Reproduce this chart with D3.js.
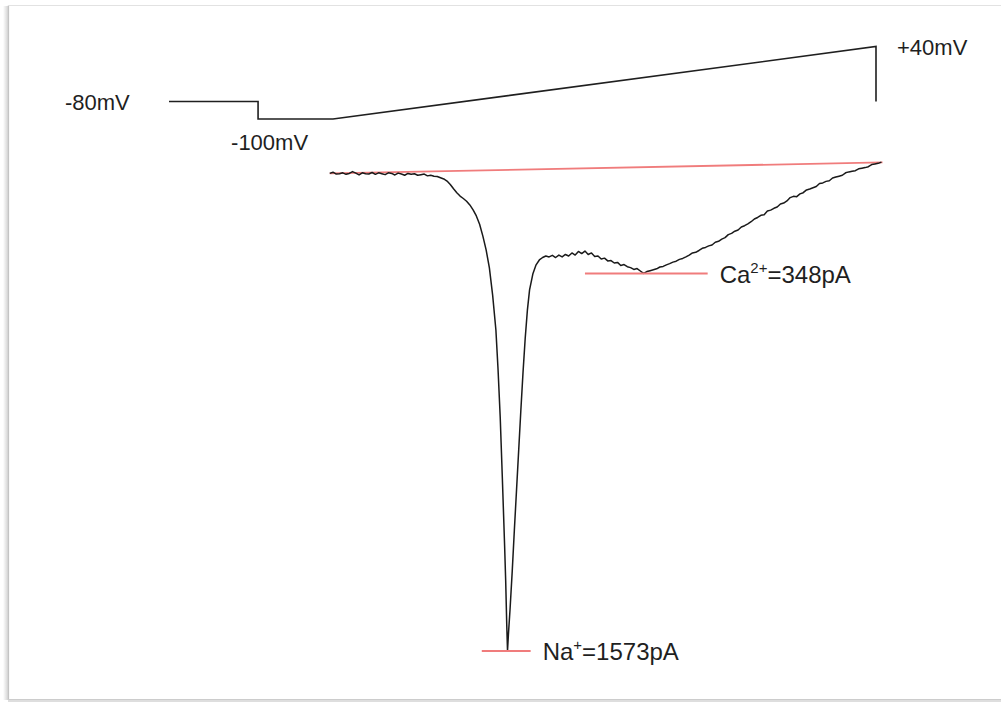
<!DOCTYPE html>
<html>
<head>
<meta charset="utf-8">
<script src="https://cdn.jsdelivr.net/npm/d3@7"></script>
<style>
  html, body { margin: 0; padding: 0; background: #fff; }
  svg { display: block; }
</style>
</head>
<body>
<script>
// ---- Voltage protocol: hold at -80 mV, step to -100 mV, ramp to +40 mV, back to -80 mV
const protocolTimeMs = [-151, -69, -69, 0, 500, 500];
const protocolMv     = [-80, -80, -100, -100, 40, -80];
const protocolLabels = ["-80mV", "-100mV", "+40mV"];

// ---- Whole-cell current recorded during the ramp (ms, pA)
const traceTimeMs = [
  -3, 0, 3, 6, 9, 12, 15, 18, 21, 24, 27, 30, 33, 36, 39, 42, 45, 48, 51, 54,
  57, 60, 63, 66, 69, 72, 75, 78, 81, 84, 87, 90, 93, 96, 99,
  102, 105, 108, 111, 114, 117, 120, 123, 126, 129, 132, 135, 138, 141, 144, 147, 150,
  152, 154, 156, 158, 159, 160, 160.7,
  161.5, 163, 165, 167, 169, 171, 173, 175, 177, 179, 181, 184, 187, 190, 193, 196, 199,
  202, 205, 208, 211, 214, 217, 220, 223, 226, 229, 232, 235, 238, 241, 244, 247, 250,
  253, 256, 259, 262, 265, 268, 271, 274, 277, 280, 283, 286, 289, 292, 295, 298, 301,
  304, 307, 310, 313, 316, 319, 322, 325, 328, 331, 334, 337, 340, 343, 346, 349, 352,
  355, 358, 361, 364, 367, 370, 373, 376, 379, 382, 385, 388, 391, 394, 397, 400, 403,
  406, 409, 412, 415, 418, 421, 424, 427, 430, 433, 436, 439, 442, 445, 448, 451, 454,
  457, 460, 463, 466, 469, 472, 475, 478, 481, 484, 487, 490, 493, 496, 499, 502, 505
];
const tracePa = [
  -21, -17, -23, -22, -19, -24, -21, -15, -20, -26, -19, -22, -23, -18, -24, -19, -22, -25, -19, -21,
  -26, -20, -23, -27, -21, -24, -22, -27, -25, -23, -29, -27, -30, -31, -35,
  -39, -46, -57, -71, -84, -95, -103, -112, -124, -140, -160, -187, -226, -271, -330, -419, -533,
  -664, -821, -1024, -1236, -1351, -1498, -1582,
  -1530, -1448, -1324, -1187, -1056, -925, -794, -670, -559, -468, -402, -350, -320, -304, -296, -291, -294,
  -289, -296, -288, -294, -286, -291, -281, -288, -276, -283, -275, -286, -281, -293, -291, -301, -298,
  -307, -306, -314, -312, -322, -319, -326, -329, -335, -332, -340, -348, -342, -339, -336, -333, -327,
  -325, -320, -316, -311, -308, -302, -299, -294, -288, -281, -279, -273, -266, -263, -258, -255, -246,
  -243, -236, -231, -221, -217, -210, -206, -196, -192, -186, -179, -170, -165, -158, -156, -144, -141,
  -135, -131, -121, -118, -111, -100, -96, -97, -88, -84, -75, -72, -68, -64, -54, -52, -47,
  -45, -36, -33, -30, -27, -19, -16, -14, -12, -6, -4, -2, 1, 8, 10, 12, 16
];

// ---- Linear leak estimate across the ramp
const leakTimeMs = [-3, 506];
const leakPa     = [-21, 15];

// ---- Peak inward currents measured from the leak line
const peakIons        = ["Na", "Ca"];
const peakCharges     = ["+", "2+"];
const peakAmplitudePa = [1573, 348];
const peakTimeMs      = [160.7, 286];
const peakMarkStartMs = [137, 232];
const peakMarkEndMs   = [182, 345];

// ---------------------------------------------------------------------------
const W = 1001, H = 702;
const svg = d3.select("body").append("svg")
  .attr("width", W).attr("height", H)
  .attr("viewBox", `0 0 ${W} ${H}`);

// Frame with a soft shadow on the left and bottom edges
const defs = svg.append("defs");
const gradL = defs.append("linearGradient").attr("id", "shadeL")
  .attr("x1", "0").attr("x2", "1").attr("y1", "0").attr("y2", "0");
gradL.append("stop").attr("offset", "0").attr("stop-color", "#ffffff");
gradL.append("stop").attr("offset", "1").attr("stop-color", "#d4d4d4");
svg.append("rect").attr("x", 3).attr("y", 6).attr("width", 5).attr("height", 694)
  .attr("fill", "url(#shadeL)");
svg.append("line").attr("x1", 8.5).attr("x2", 8.5).attr("y1", 5).attr("y2", 700)
  .attr("stroke", "#c4c4c4").attr("stroke-width", 1.2);
svg.append("line").attr("x1", 8).attr("x2", W).attr("y1", 5.5).attr("y2", 5.5)
  .attr("stroke", "#e2e2e2").attr("stroke-width", 1.2);
svg.append("rect").attr("x", 8).attr("y", 699).attr("width", W - 8).attr("height", 3)
  .attr("fill", "#dedede");
svg.append("line").attr("x1", 8).attr("x2", W).attr("y1", 699.5).attr("y2", 699.5)
  .attr("stroke", "#cccccc").attr("stroke-width", 1);

// Scales
const x = d3.scaleLinear().domain([0, 500]).range([333, 876]);
const v = d3.scaleLinear().domain([-100, -80, 40]).range([119, 101.5, 46.5]);
const y = d3.scaleLinear().domain([-1600, 0]).range([656.3, 167]);

const FONT = "'Liberation Sans', Arial, Helvetica, sans-serif";
const INK = "#1f1f1f";
const RED = "#f07c7c";

// Voltage protocol
const protocol = d3.zip(protocolTimeMs, protocolMv);
svg.append("path")
  .datum(protocol)
  .attr("fill", "none")
  .attr("stroke", INK)
  .attr("stroke-width", 1.6)
  .attr("d", d3.line().x(d => x(d[0])).y(d => v(d[1])));

const labelG = svg.append("g")
  .attr("font-family", FONT).attr("font-size", 22).attr("fill", INK);
labelG.append("text").attr("x", x(protocolTimeMs[0]) - 104).attr("y", v(protocolMv[0]) + 8)
  .text(protocolLabels[0]);
labelG.append("text").attr("x", x(protocolTimeMs[2]) - 27).attr("y", v(protocolMv[2]) + 31)
  .text(protocolLabels[1]);
labelG.append("text").attr("x", x(protocolTimeMs[4]) + 21).attr("y", v(protocolMv[4]) + 8)
  .text(protocolLabels[2]);

// Leak line
const leak = d3.scaleLinear().domain(leakTimeMs).range(leakPa);
svg.append("path")
  .datum(d3.zip(leakTimeMs, leakPa))
  .attr("fill", "none")
  .attr("stroke", RED)
  .attr("stroke-width", 1.8)
  .attr("d", d3.line().x(d => x(d[0])).y(d => y(d[1])));

// Current trace
svg.append("path")
  .datum(d3.zip(traceTimeMs, tracePa))
  .attr("fill", "none")
  .attr("stroke", "#1a1a1a")
  .attr("stroke-width", 1.5)
  .attr("stroke-linejoin", "round")
  .attr("d", d3.line().x(d => x(d[0])).y(d => y(d[1])));

// Peak markers and their labels
peakIons.forEach((ion, i) => {
  const level = leak(peakTimeMs[i]) - peakAmplitudePa[i];
  const yy = y(level);
  svg.append("line")
    .attr("x1", x(peakMarkStartMs[i])).attr("x2", x(peakMarkEndMs[i]))
    .attr("y1", yy).attr("y2", yy)
    .attr("stroke", RED).attr("stroke-width", 2);
  const t = svg.append("text")
    .attr("x", x(peakMarkEndMs[i]) + 12)
    .attr("y", yy + 9)
    .attr("font-family", FONT).attr("font-size", 24).attr("fill", INK);
  t.append("tspan").text(ion);
  t.append("tspan").attr("font-size", 15).attr("dy", -10).text(peakCharges[i]);
  t.append("tspan").attr("dy", 10).text(`=${peakAmplitudePa[i]}pA`);
});
</script>
</body>
</html>
